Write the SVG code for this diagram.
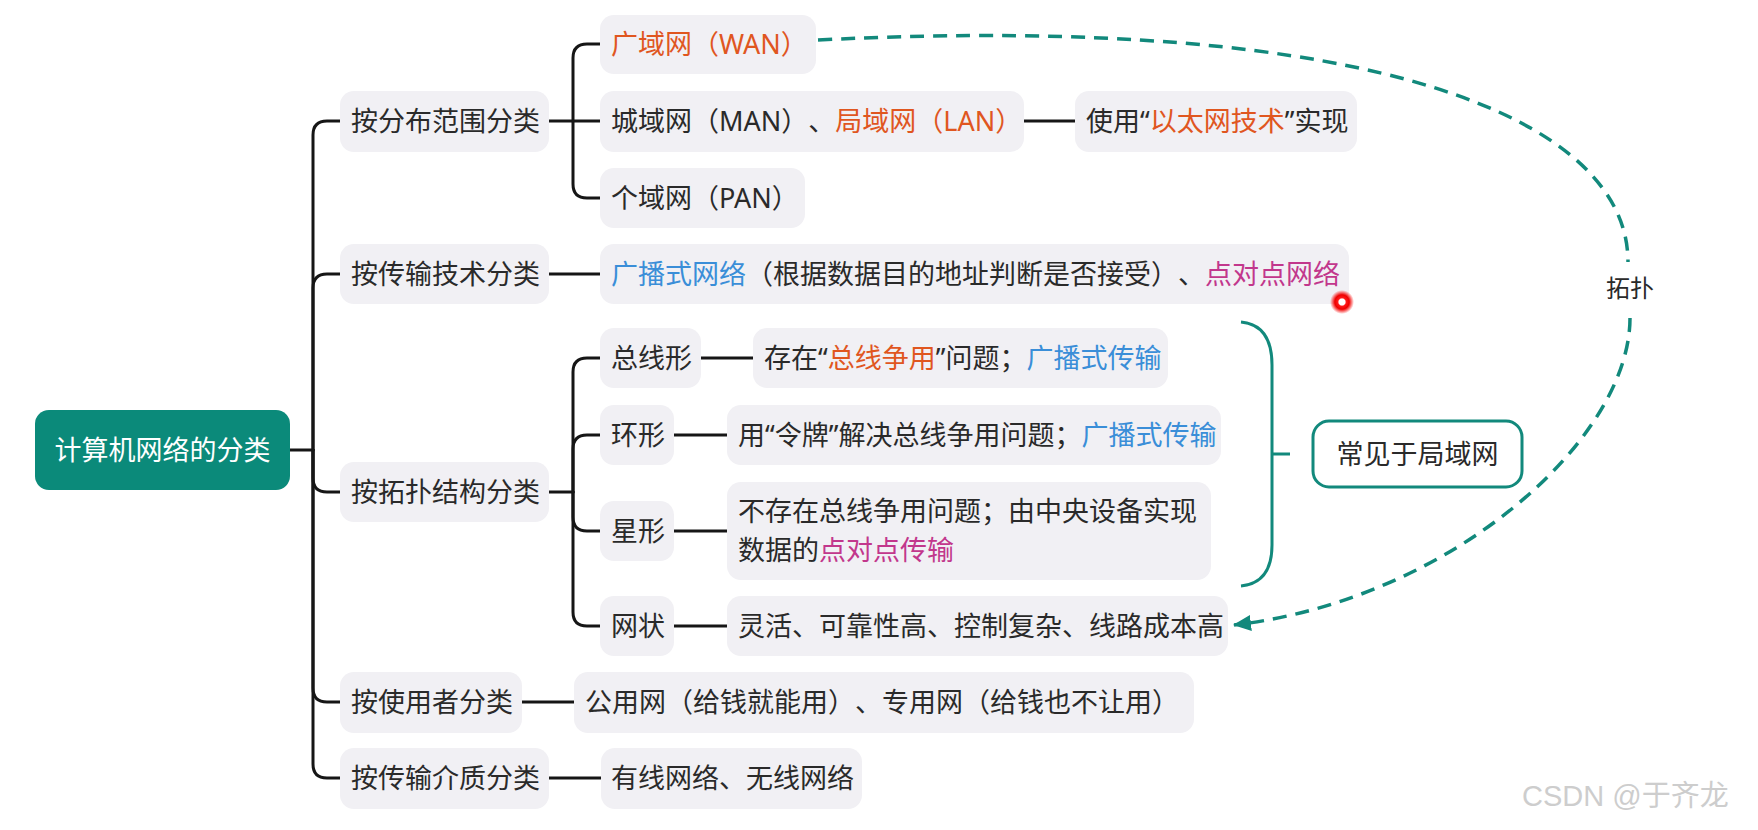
<svg xmlns="http://www.w3.org/2000/svg" width="1758" height="830" viewBox="0 0 1758 830">
  <defs>
    <style>
      .box { fill: #f1f0f4; }
      .t { font-family: "Noto Sans", "Noto Sans CJK SC", sans-serif; font-size: 27px; fill: #2a2a2a; text-spacing-trim: space-all; }
      .or { fill: #e0561f; }
      .bl { fill: #3a8ed8; }
      .mg { fill: #c2378c; }
      .ln { fill: none; stroke: #161616; stroke-width: 3; stroke-linecap: round; }
      .teal { fill: none; stroke: #12897c; stroke-width: 3; }
      .dash { fill: none; stroke: #12897c; stroke-width: 3.5; stroke-dasharray: 14 9; }
    </style>
    <marker id="arr" markerUnits="userSpaceOnUse" viewBox="0 0 18 16" refX="17" refY="8" markerWidth="18" markerHeight="16" orient="auto">
      <path d="M0,0 L18,8 L0,16 Z" fill="#12897c"/>
    </marker>
    <radialGradient id="dot" cx="0.5" cy="0.5" r="0.5">
      <stop offset="0" stop-color="#ffffff"/>
      <stop offset="0.25" stop-color="#ffffff"/>
      <stop offset="0.35" stop-color="#ff1a1a"/>
      <stop offset="0.6" stop-color="#ee0000"/>
      <stop offset="1" stop-color="#ff0000" stop-opacity="0"/>
    </radialGradient>
  </defs>
  <rect width="1758" height="830" fill="#ffffff"/>

  <g id="connectors">
    <path class="ln" d="M290,450 H313"/>
    <path class="ln" d="M313,450 V135 Q313,121 327,121 H340"/>
    <path class="ln" d="M313,450 V288 Q313,274 327,274 H340"/>
    <path class="ln" d="M313,450 V478 Q313,492 327,492 H340"/>
    <path class="ln" d="M313,450 V688 Q313,702 327,702 H340"/>
    <path class="ln" d="M313,450 V764 Q313,778 327,778 H340"/>

    <path class="ln" d="M549,121 H600"/>
    <path class="ln" d="M573,121 V58 Q573,44 587,44 H600"/>
    <path class="ln" d="M573,121 V184 Q573,198 587,198 H600"/>

    <path class="ln" d="M549,274 H600"/>

    <path class="ln" d="M549,492 H573"/>
    <path class="ln" d="M573,492 V372 Q573,358 587,358 H600"/>
    <path class="ln" d="M573,492 V449 Q573,435 587,435 H600"/>
    <path class="ln" d="M573,492 V517 Q573,531 587,531 H600"/>
    <path class="ln" d="M573,492 V612 Q573,626 587,626 H600"/>

    <path class="ln" d="M1024,121 H1075"/>
    <path class="ln" d="M701,358 H753"/>
    <path class="ln" d="M674,435 H727"/>
    <path class="ln" d="M674,531 H727"/>
    <path class="ln" d="M674,626 H727"/>
    <path class="ln" d="M522,702 H574"/>
    <path class="ln" d="M549,778 H601"/>

    <path class="teal" d="M1241,322 C1262,324 1272,338 1272,365 L1272,545 C1272,570 1262,584 1241,586 M1272,454 H1290"/>

    <path class="dash" d="M818,40 C1378,12 1628,120 1628,262"/>
    <path class="dash" d="M1630,318 C1630,440 1450,600 1234,625" marker-end="url(#arr)"/>
    <text class="t" x="1630" y="297" text-anchor="middle" style="font-size:24px">拓扑</text>
  </g>

  <g id="root">
    <rect x="35" y="410" width="255" height="80" rx="14" fill="#0b8a7a"/>
    <text class="t" x="162.5" y="460" text-anchor="middle" style="fill:#ffffff">计算机网络的分类</text>
  </g>

  <g id="n-range">
    <rect class="box" x="340" y="91" width="209" height="61" rx="14"/>
    <text class="t" x="351" y="131">按分布范围分类</text>
  </g>
  <g id="n-tech">
    <rect class="box" x="340" y="244" width="209" height="60" rx="14"/>
    <text class="t" x="351" y="284">按传输技术分类</text>
  </g>
  <g id="n-topo">
    <rect class="box" x="340" y="462" width="209" height="60" rx="14"/>
    <text class="t" x="351" y="502">按拓扑结构分类</text>
  </g>
  <g id="n-user">
    <rect class="box" x="340" y="672" width="182" height="61" rx="14"/>
    <text class="t" x="351" y="712">按使用者分类</text>
  </g>
  <g id="n-medium">
    <rect class="box" x="340" y="748" width="209" height="61" rx="14"/>
    <text class="t" x="351" y="788">按传输介质分类</text>
  </g>

  <g id="n-wan">
    <rect class="box" x="600" y="15" width="216" height="59" rx="14"/>
    <text class="t" x="611" y="54"><tspan class="or">广域网（WAN）</tspan></text>
  </g>
  <g id="n-man-lan">
    <rect class="box" x="600" y="91" width="424" height="61" rx="14"/>
    <text class="t" x="611" y="131">城域网（MAN）、<tspan class="or">局域网（LAN）</tspan></text>
  </g>
  <g id="n-pan">
    <rect class="box" x="600" y="168" width="205" height="60" rx="14"/>
    <text class="t" x="611" y="208">个域网（PAN）</text>
  </g>
  <g id="n-ethernet">
    <rect class="box" x="1075" y="91" width="282" height="61" rx="14"/>
    <text class="t" x="1086" y="131">使用“<tspan class="or">以太网技术</tspan>”实现</text>
  </g>
  <g id="n-broadcast">
    <rect class="box" x="600" y="244" width="749" height="60" rx="14"/>
    <text class="t" x="611" y="284"><tspan class="bl">广播式网络</tspan>（根据数据目的地址判断是否接受）、<tspan class="mg">点对点网络</tspan></text>
  </g>

  <g id="n-bus">
    <rect class="box" x="600" y="328" width="101" height="60" rx="14"/>
    <text class="t" x="611" y="368">总线形</text>
  </g>
  <g id="n-ring">
    <rect class="box" x="600" y="405" width="74" height="60" rx="14"/>
    <text class="t" x="611" y="445">环形</text>
  </g>
  <g id="n-star">
    <rect class="box" x="600" y="501" width="74" height="60" rx="14"/>
    <text class="t" x="611" y="541">星形</text>
  </g>
  <g id="n-mesh">
    <rect class="box" x="600" y="596" width="74" height="60" rx="14"/>
    <text class="t" x="611" y="636">网状</text>
  </g>

  <g id="n-bus-desc">
    <rect class="box" x="753" y="328" width="415" height="60" rx="14"/>
    <text class="t" x="764" y="368">存在“<tspan class="or">总线争用</tspan>”问题；<tspan class="bl">广播式传输</tspan></text>
  </g>
  <g id="n-ring-desc">
    <rect class="box" x="727" y="405" width="494" height="60" rx="14"/>
    <text class="t" x="738" y="445">用“令牌”解决总线争用问题；<tspan class="bl">广播式传输</tspan></text>
  </g>
  <g id="n-star-desc">
    <rect class="box" x="727" y="482" width="484" height="98" rx="14"/>
    <text class="t" x="738" y="521">不存在总线争用问题；由中央设备实现</text>
    <text class="t" x="738" y="560">数据的<tspan class="mg">点对点传输</tspan></text>
  </g>
  <g id="n-mesh-desc">
    <rect class="box" x="727" y="596" width="501" height="60" rx="14"/>
    <text class="t" x="738" y="636">灵活、可靠性高、控制复杂、线路成本高</text>
  </g>

  <g id="n-public">
    <rect class="box" x="574" y="672" width="620" height="61" rx="14"/>
    <text class="t" x="585" y="712">公用网（给钱就能用）、专用网（给钱也不让用）</text>
  </g>
  <g id="n-wired">
    <rect class="box" x="601" y="748" width="261" height="61" rx="14"/>
    <text class="t" x="611" y="788">有线网络、无线网络</text>
  </g>

  <g id="n-lan-common">
    <rect x="1313" y="421" width="209" height="66" rx="16" fill="#ffffff" stroke="#12897c" stroke-width="3"/>
    <text class="t" x="1417.5" y="464" text-anchor="middle">常见于局域网</text>
  </g>

  <circle cx="1342" cy="302" r="12" fill="url(#dot)"/>

  <text x="1522" y="806" style="font-family:'Liberation Sans','Noto Sans CJK SC',sans-serif;font-size:29px;fill:#cdcdcd">CSDN @于齐龙</text>
</svg>
